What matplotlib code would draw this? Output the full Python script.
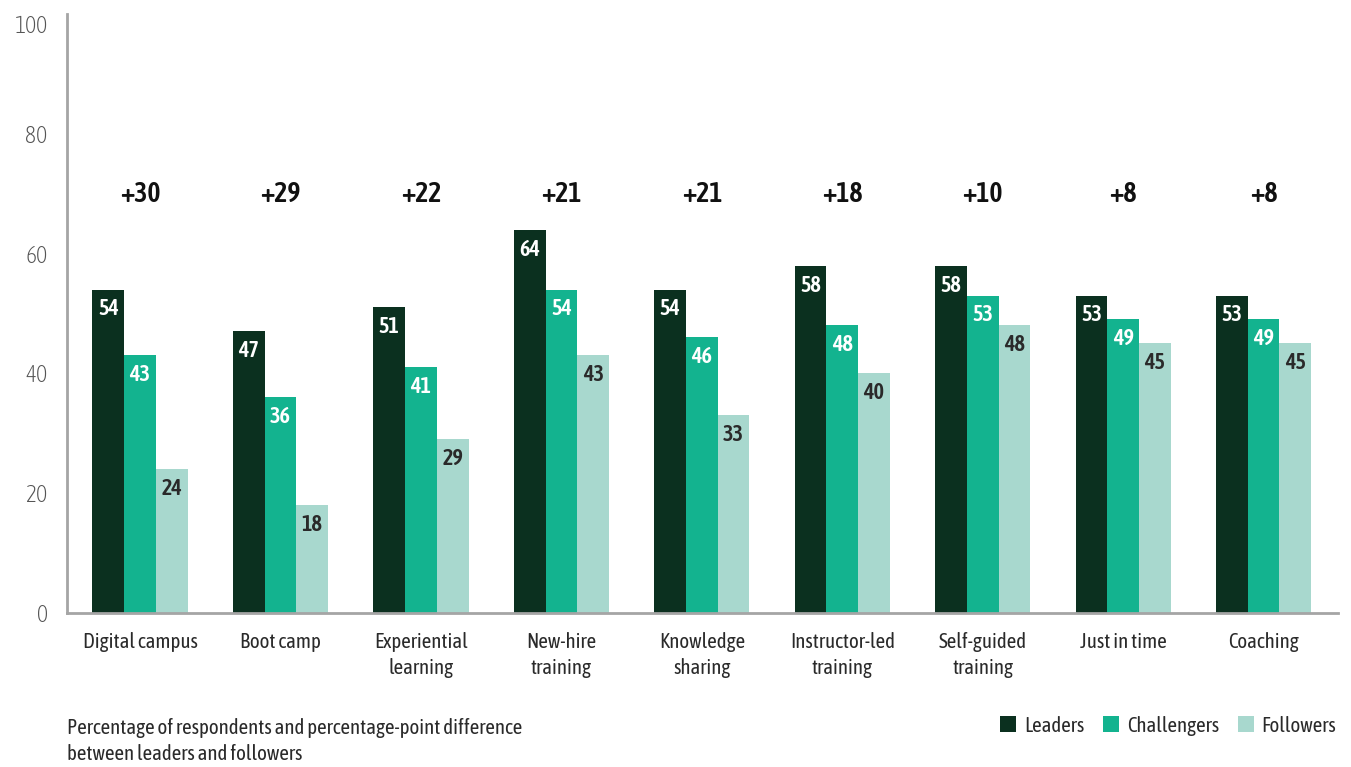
import matplotlib.pyplot as plt
import matplotlib.transforms as mtransforms
import numpy as np

categories = ['Digital campus', 'Boot camp', 'Experiential\nlearning', 'New-hire\ntraining',
              'Knowledge\nsharing', 'Instructor-led\ntraining', 'Self-guided\ntraining',
              'Just in time', 'Coaching']
leaders = [54, 47, 51, 64, 54, 58, 58, 53, 53]
challengers = [43, 36, 41, 54, 46, 48, 53, 49, 49]
followers = [24, 18, 29, 43, 33, 40, 48, 45, 45]
diffs = ['+30', '+29', '+22', '+21', '+21', '+18', '+10', '+8', '+8']

c_lead = '#0b301f'
c_chal = '#13b38f'
c_foll = '#a8d8ce'
txt = '#2a2a2a'

plt.rcParams['font.family'] = ['Asap Condensed', 'DejaVu Sans']

fig = plt.figure(figsize=(13.51, 7.67), dpi=100)
ax = fig.add_axes([0.0496, 0.2008, 0.9408, 0.781])

x = np.arange(len(categories))
w = 0.226
b1 = ax.bar(x - w, leaders, w, color=c_lead, label='Leaders')
b2 = ax.bar(x, challengers, w, color=c_chal, label='Challengers')
b3 = ax.bar(x + w, followers, w, color=c_foll, label='Followers')

for bars, vals, col in [(b1, leaders, 'white'), (b2, challengers, 'white'), (b3, followers, txt)]:
    for r, v in zip(bars, vals):
        ax.text(r.get_x() + r.get_width() / 2, v - 1.5, str(v), ha='center', va='top',
                color=col, fontsize=16, fontweight='semibold')

for i, d in enumerate(diffs):
    ax.text(x[i], 69.8, d, ha='center', va='center', color='#111111', fontsize=20, fontweight='semibold')

ax.set_ylim(0, 100)
ax.set_xlim(-0.52, 8.53)
ax.set_yticks([0, 20, 40, 60, 80, 100])
ax.set_xticks(x)
ax.set_xticklabels(categories, fontsize=15, color=txt, linespacing=1.35)
ax.tick_params(axis='both', length=0)
ax.tick_params(axis='y', labelsize=17, labelcolor='#555555', pad=14)
for lbl in ax.get_yticklabels():
    lbl.set_fontweight('light')
top_lbl = ax.get_yticklabels()[-1]
top_lbl.set_transform(top_lbl.get_transform() + mtransforms.ScaledTranslation(0, -0.1, fig.dpi_scale_trans))
ax.tick_params(axis='x', pad=14)
for s in ['top', 'right']:
    ax.spines[s].set_visible(False)
for s in ['left', 'bottom']:
    ax.spines[s].set_color('#a5a5a5')
    ax.spines[s].set_linewidth(2)

fig.text(0.0496, 0.004, 'Percentage of respondents and percentage-point difference\nbetween leaders and followers',
         fontsize=15, color=txt, ha='left', va='bottom', linespacing=1.35)
fig.legend(handles=[b1, b2, b3], loc='center right', bbox_to_anchor=(1.003, 0.054), ncol=3, frameon=False,
           fontsize=15, handlelength=0.8, handleheight=0.8, handletextpad=0.35, columnspacing=0.9,
           labelcolor=txt)

fig.savefig('out.png', dpi=100)
